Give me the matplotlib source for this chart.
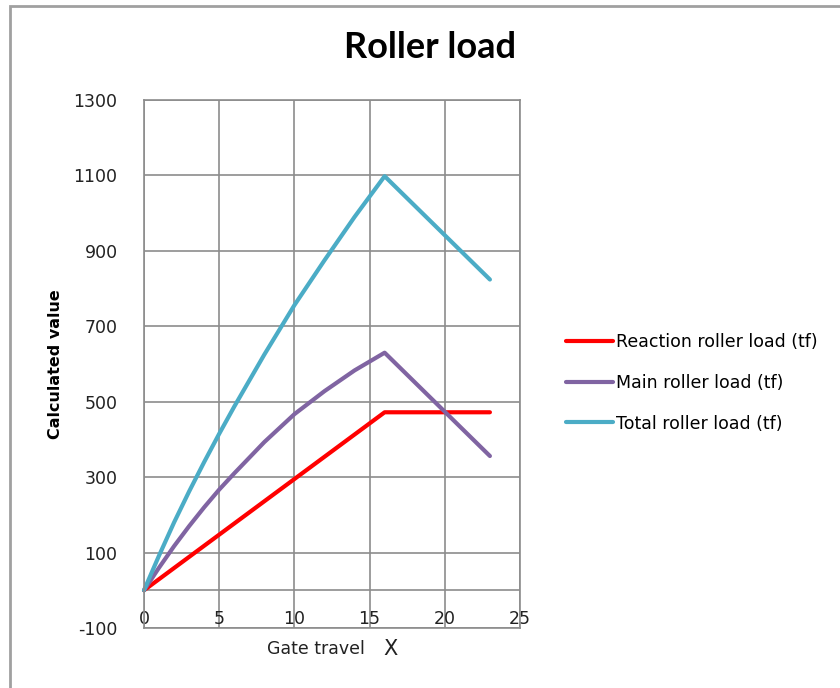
import matplotlib.pyplot as plt
from matplotlib.patches import Rectangle

# gate travel positions and calculated roller loads (tf)
gate_travel = [0, 1, 2, 3, 4, 5, 6, 8, 10, 12, 14, 16, 23]
reaction_load = [0, 29.5, 59, 88.5, 118, 147.5, 177, 236, 295, 354, 413, 472, 472]
main_load = [0, 60, 117, 170, 220, 267, 310, 393, 467, 528, 583, 630, 356]
total_load = [0, 92, 180, 262, 340, 415, 487, 625, 756, 875, 990, 1098, 824]

series_names = ['Reaction roller load (tf)', 'Main roller load (tf)', 'Total roller load (tf)']
series_colors = ['#ff0000', '#8064a2', '#4bacc6']

x_ticks = [0, 5, 10, 15, 20, 25]
y_ticks = [-100, 100, 300, 500, 700, 900, 1100, 1300]

plt.rcParams['font.family'] = ['DejaVu Sans']
plt.rcParams['axes.unicode_minus'] = False

fig = plt.figure(figsize=(8.4, 6.88), dpi=100)
ax = fig.add_axes([144 / 840, 1 - 628 / 688, 376 / 840, 528 / 688])

# chart area border
fig.patches.append(Rectangle((10 / 840, -0.1), 1.2, 1 - 6 / 688 + 0.1,
                             transform=fig.transFigure, fill=False,
                             edgecolor='#a0a0a0', linewidth=2))

grid_color = '#8c8c8c'
ax.set_xlim(0, 25)
ax.set_ylim(-100, 1300)
ax.set_xticks(x_ticks)
ax.set_yticks(y_ticks)
ax.grid(True, color=grid_color, linewidth=1.2)
ax.axhline(0, color=grid_color, linewidth=1.2)
for s in ax.spines.values():
    s.set_color(grid_color)
    s.set_linewidth(1.2)
ax.tick_params(length=0, labelsize=12.5, colors='#222222')
ax.tick_params(axis='y', pad=19)
ax.tick_params(axis='x', pad=-13)
ax.set_axisbelow(True)

for vals, name, col in zip([reaction_load, main_load, total_load], series_names, series_colors):
    ax.plot(gate_travel, vals, color=col, linewidth=3, label=name,
            solid_capstyle='round', solid_joinstyle='round', clip_on=False)

fig.text(430 / 840, 1 - 48 / 688, 'Roller load', ha='center', va='center',
         fontsize=26, fontweight='bold', family='Lato')
fig.text(56 / 840, 1 - 364 / 688, 'Calculated value', rotation=90,
         ha='center', va='center', fontsize=11.5, fontweight='bold')
fig.text(316 / 840, 1 - 649 / 688, 'Gate travel', ha='center', va='center',
         fontsize=12.5, color='#222222')
fig.text(391 / 840, 1 - 649 / 688, 'X', ha='center', va='center',
         fontsize=15, color='#222222')

fig.legend(loc='center left', bbox_to_anchor=(566 / 840, 1 - 383 / 688),
           frameon=False, fontsize=12.5, handlelength=2.7, handletextpad=0.2,
           labelspacing=1.3, borderpad=0, borderaxespad=0)

fig.savefig('out.png', dpi=100)
